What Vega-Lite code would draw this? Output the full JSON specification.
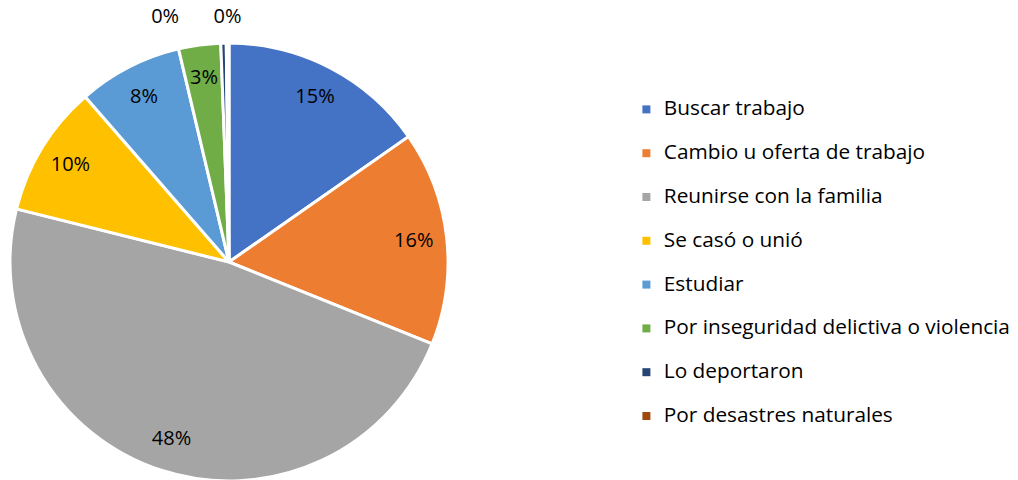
{
  "$schema": "https://vega.github.io/schema/vega-lite/v6.json",
  "width": 458,
  "height": 524,
  "autosize": {"type": "pad"},
  "padding": 0,
  "background": "white",
  "config": {"view": {"stroke": null}, "font": "Open Sans"},
  "data": {"values": [
    {"motivo": "Buscar trabajo", "pct": 0.153, "orden": 1},
    {"motivo": "Cambio u oferta de trabajo", "pct": 0.158, "orden": 2},
    {"motivo": "Reunirse con la familia", "pct": 0.478, "orden": 3},
    {"motivo": "Se casó o unió", "pct": 0.097, "orden": 4},
    {"motivo": "Estudiar", "pct": 0.077, "orden": 5},
    {"motivo": "Por inseguridad delictiva o violencia", "pct": 0.031, "orden": 6},
    {"motivo": "Lo deportaron", "pct": 0.004, "orden": 7},
    {"motivo": "Por desastres naturales", "pct": 0.002, "orden": 8}
  ]},
  "encoding": {
    "theta": {"field": "pct", "type": "quantitative", "stack": true},
    "order": {"field": "orden", "type": "quantitative"}
  },
  "layer": [
    {
      "mark": {"type": "arc", "outerRadius": 219, "stroke": "white", "strokeWidth": 3},
      "encoding": {
        "color": {
          "field": "motivo", "type": "nominal",
          "sort": ["Buscar trabajo", "Cambio u oferta de trabajo", "Reunirse con la familia", "Se casó o unió", "Estudiar", "Por inseguridad delictiva o violencia", "Lo deportaron", "Por desastres naturales"],
          "scale": {
            "domain": ["Buscar trabajo", "Cambio u oferta de trabajo", "Reunirse con la familia", "Se casó o unió", "Estudiar", "Por inseguridad delictiva o violencia", "Lo deportaron", "Por desastres naturales"],
            "range": ["#4472C4", "#ED7D31", "#A5A5A5", "#FFC000", "#5B9BD5", "#70AD47", "#264478", "#9E480E"]
          },
          "legend": {
            "title": null,
            "orient": "none",
            "legendX": 636,
            "legendY": 99,
            "symbolType": "square",
            "symbolSize": 64,
            "symbolStrokeWidth": 0,
            "labelFontSize": 20.8,
            "labelFont": "Open Sans",
            "labelColor": "#000000",
            "labelOffset": 7,
            "labelLimit": 400,
            "rowPadding": 21.8
          }
        }
      }
    },
    {
      "transform": [{"filter": "datum.pct >= 0.01"}],
      "mark": {"type": "text", "radius": 186, "fontSize": 20, "color": "#000000"},
      "encoding": {"text": {"field": "pct", "type": "quantitative", "format": ".0%"}}
    },
    {
      "transform": [{"filter": "datum.motivo == 'Lo deportaron'"}],
      "mark": {"type": "text", "radius": 250, "dx": -67, "dy": 5, "fontSize": 20, "color": "#000000"},
      "encoding": {"text": {"field": "pct", "type": "quantitative", "format": ".0%"}}
    },
    {
      "transform": [{"filter": "datum.motivo == 'Por desastres naturales'"}],
      "mark": {"type": "text", "radius": 245, "dx": -3, "fontSize": 20, "color": "#000000"},
      "encoding": {"text": {"field": "pct", "type": "quantitative", "format": ".0%"}}
    }
  ]
}
